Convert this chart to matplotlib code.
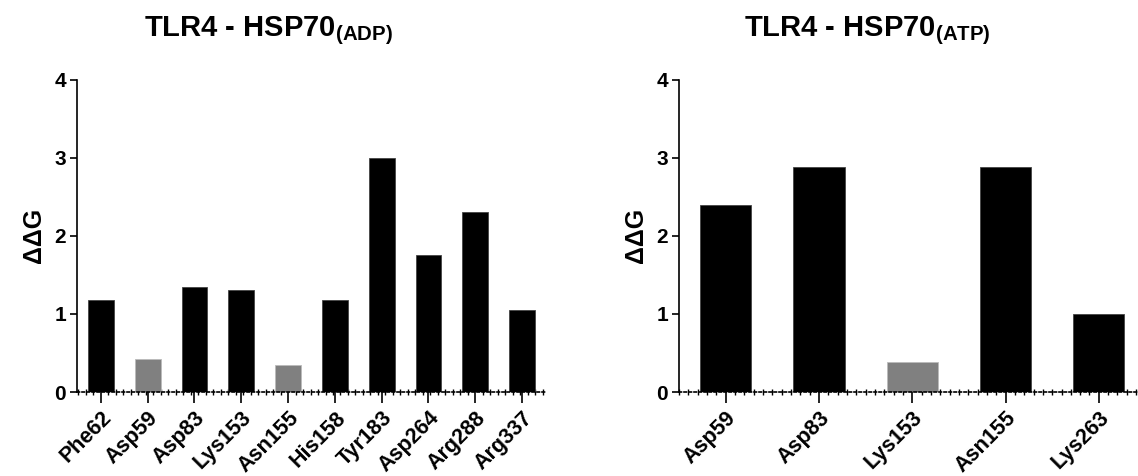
import matplotlib
matplotlib.use("Agg")
import matplotlib.pyplot as plt
from matplotlib.ticker import MultipleLocator

plt.rcParams['font.family'] = ['Liberation Sans', 'DejaVu Sans']
plt.rcParams['font.weight'] = 'bold'
plt.rcParams['mathtext.fontset'] = 'custom'
plt.rcParams['mathtext.rm'] = 'Liberation Sans:bold'
plt.rcParams['mathtext.bf'] = 'Liberation Sans:bold'

# TLR4 - HSP70 (ADP)
adp_residues = ["Phe62", "Asp59", "Asp83", "Lys153", "Asn155",
                "His158", "Tyr183", "Asp264", "Arg288", "Arg337"]
adp_ddg = [1.18, 0.42, 1.35, 1.30, 0.35, 1.18, 3.00, 1.75, 2.30, 1.05]
adp_colors = ["black", "grey", "black", "black", "grey",
              "black", "black", "black", "black", "black"]

# TLR4 - HSP70 (ATP)
atp_residues = ["Asp59", "Asp83", "Lys153", "Asn155", "Lys263"]
atp_ddg = [2.39, 2.88, 0.39, 2.88, 1.00]
atp_colors = ["black", "black", "grey", "black", "black"]

W, H = 1138, 476
fig = plt.figure(figsize=(W / 100, H / 100), dpi=100)

ax1 = fig.add_axes([77 / W, 84 / H, 468 / W, 312.5 / H])
ax2 = fig.add_axes([679 / W, 84 / H, 459 / W, 312.5 / H])


def style(ax, names, vals, cols, xlim, minor):
    x = range(len(names))
    edges = ["#bbbbbb" if c == "grey" else "#444444" for c in cols]
    ax.bar(x, vals, width=0.55, color=["#808080" if c == "grey" else "black" for c in cols],
           edgecolor=edges, linewidth=0.6, zorder=2)
    ax.set_xlim(*xlim)
    ax.set_ylim(0, 4)
    ax.set_yticks([0, 1, 2, 3, 4])
    ax.set_xticks(list(x))
    ax.set_xticklabels(names, rotation=45, ha="right", rotation_mode="anchor",
                       fontsize=15.5, fontweight="bold")
    ax.tick_params(axis="y", labelsize=15, width=1.2, length=5, pad=3)
    ax.tick_params(axis="x", width=1.2, length=8, pad=3)
    ax.xaxis.set_minor_locator(MultipleLocator(minor))
    ax.tick_params(axis="x", which="minor", direction="inout", length=4, width=1)
    for s in ["top", "right"]:
        ax.spines[s].set_visible(False)
    ax.spines["left"].set_linewidth(1.2)
    ax.spines["bottom"].set_linewidth(1.2)
    ax.spines["bottom"].set_linestyle((0, (1.5, 1.5)))
    ax.set_ylabel("ΔΔG", fontsize=18, fontweight="bold", labelpad=6)


style(ax1, adp_residues, adp_ddg, adp_colors, (-0.51, 9.49), 0.16)
style(ax2, atp_residues, atp_ddg, atp_colors, (-0.5, 4.42), 0.1)

fig.text(268 / W, 1 - 36 / H, r"TLR4 - HSP70$_{\mathbf{(ADP)}}$", ha="center",
         va="baseline", fontsize=21, fontweight="bold")
fig.text(867 / W, 1 - 36 / H, r"TLR4 - HSP70$_{\mathbf{(ATP)}}$", ha="center",
         va="baseline", fontsize=21, fontweight="bold")

fig.savefig("out.png", dpi=100)
